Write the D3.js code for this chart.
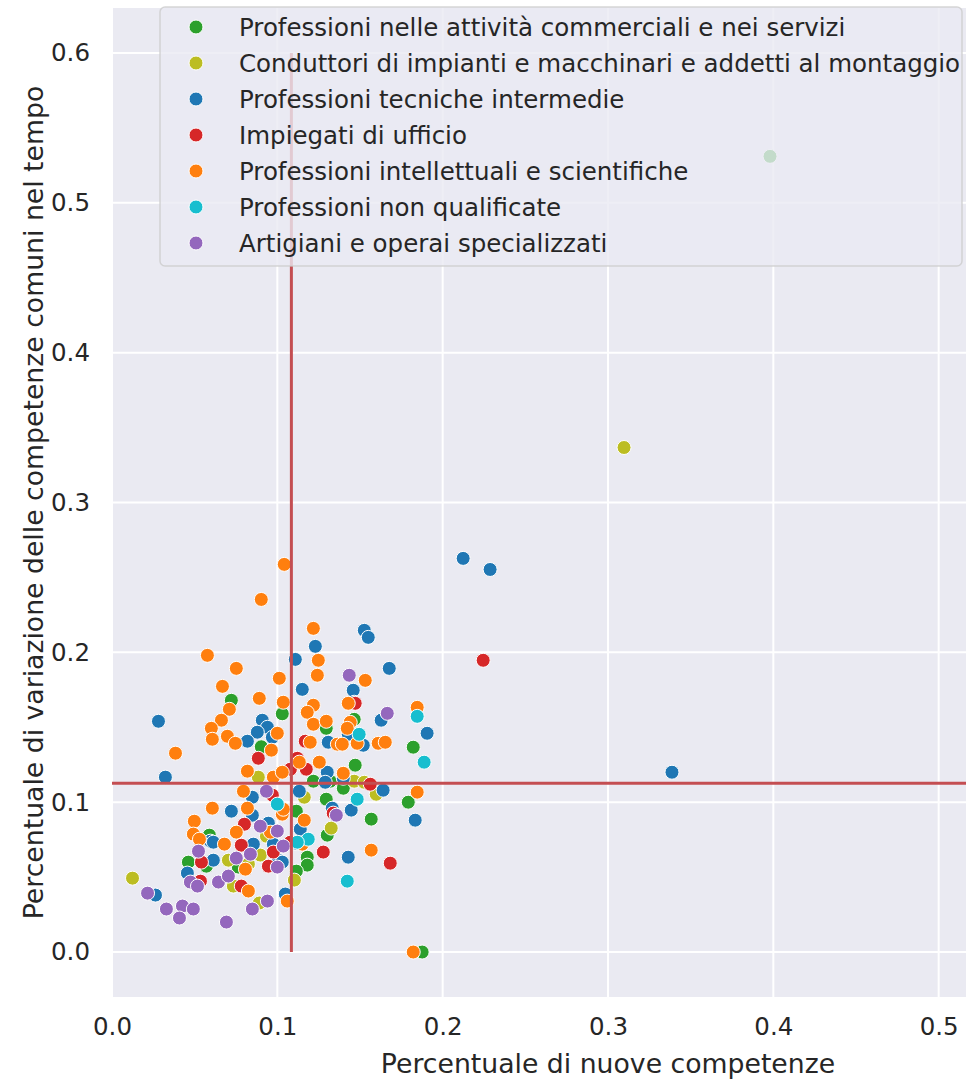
<!DOCTYPE html>
<html>
<head>
<meta charset="utf-8">
<script src="https://cdn.jsdelivr.net/npm/d3@7/dist/d3.min.js"></script>
<style>
body { margin: 0; background: #fff; }
text { font-family: "DejaVu Sans", sans-serif; fill: #262626; }
</style>
</head>
<body>
<svg id="chart" width="966" height="1080"></svg>
<script>
// categorie (ordine della legenda) e colori
var categories = [
  'Professioni nelle attività commerciali e nei servizi',
  'Conduttori di impianti e macchinari e addetti al montaggio',
  'Professioni tecniche intermedie',
  'Impiegati di ufficio',
  'Professioni intellettuali e scientifiche',
  'Professioni non qualificate',
  'Artigiani e operai specializzati'
];
var colors = ['#2ca02c', '#bcbd22', '#1f77b4', '#d62728', '#ff7f0e', '#17becf', '#9467bd'];

// [nuove competenze, variazione competenze comuni]
var commerciali = [
  [0.398, 0.531], [0.0722, 0.168], [0.103, 0.159], [0.0903, 0.137], [0.0589, 0.078],
  [0.0462, 0.060], [0.0571, 0.0573], [0.0764, 0.0567], [0.1296, 0.1493], [0.1465, 0.1553],
  [0.1822, 0.1367], [0.1471, 0.1247], [0.1218, 0.114], [0.132, 0.114], [0.1399, 0.1093],
  [0.1296, 0.102], [0.1792, 0.100], [0.1115, 0.094], [0.1568, 0.0887], [0.1302, 0.078],
  [0.1181, 0.0633], [0.1181, 0.058], [0.1115, 0.054], [0.1876, 0.0]
];
var conduttori = [
  [0.3097, 0.3367], [0.0885, 0.1167], [0.1465, 0.114], [0.1526, 0.1133], [0.1598, 0.1053],
  [0.1163, 0.1033], [0.1326, 0.0827], [0.1103, 0.048], [0.0934, 0.0773], [0.0897, 0.0647],
  [0.0704, 0.0613], [0.0825, 0.0587], [0.0734, 0.044], [0.0891, 0.0327], [0.0124, 0.0493]
];
var tecniche = [
  [0.2124, 0.2627], [0.2287, 0.2553], [0.3387, 0.120], [0.1526, 0.2147], [0.155, 0.210],
  [0.123, 0.204], [0.1109, 0.1953], [0.1677, 0.1893], [0.1151, 0.1753], [0.1459, 0.1747],
  [0.1465, 0.1667], [0.1628, 0.1547], [0.1429, 0.1453], [0.1308, 0.140], [0.152, 0.138],
  [0.1906, 0.146], [0.0281, 0.154], [0.0909, 0.1547], [0.094, 0.150], [0.0879, 0.1467],
  [0.097, 0.1433], [0.0819, 0.1407], [0.0323, 0.1167], [0.0849, 0.1033], [0.0722, 0.094],
  [0.0849, 0.0913], [0.0946, 0.086], [0.0595, 0.074], [0.0613, 0.0733], [0.0855, 0.072],
  [0.0976, 0.072], [0.0613, 0.0613], [0.1006, 0.0613], [0.0456, 0.0527], [0.0263, 0.038],
  [0.1048, 0.0387], [0.1302, 0.120], [0.1399, 0.116], [0.129, 0.1133], [0.164, 0.108],
  [0.1133, 0.1073], [0.1447, 0.0947], [0.1332, 0.096], [0.1834, 0.088], [0.1139, 0.082],
  [0.1109, 0.0727], [0.1429, 0.0633], [0.103, 0.060]
];
var impiegati = [
  [0.2245, 0.1947], [0.1471, 0.166], [0.1169, 0.1407], [0.0885, 0.1293], [0.1121, 0.1293],
  [0.1175, 0.122], [0.1079, 0.122], [0.097, 0.1047], [0.1562, 0.112], [0.1338, 0.0927],
  [0.0801, 0.0853], [0.0782, 0.0713], [0.0976, 0.0667], [0.1079, 0.0733], [0.0541, 0.060],
  [0.0946, 0.0573], [0.0535, 0.0473], [0.0782, 0.044], [0.1278, 0.0667], [0.1683, 0.0593]
];
var intellettuali = [
  [0.1042, 0.2587], [0.0903, 0.2353], [0.0577, 0.198], [0.0752, 0.1893], [0.1248, 0.1947],
  [0.1218, 0.216], [0.1242, 0.1847], [0.1532, 0.1813], [0.1429, 0.166], [0.1036, 0.1667],
  [0.1218, 0.1647], [0.1181, 0.160], [0.1846, 0.1633], [0.1218, 0.152], [0.1296, 0.154],
  [0.1441, 0.1533], [0.1423, 0.1493], [0.1199, 0.140], [0.1363, 0.1387], [0.1393, 0.1387],
  [0.1483, 0.1393], [0.161, 0.1393], [0.1653, 0.140], [0.1012, 0.1827], [0.0668, 0.1773],
  [0.0891, 0.1693], [0.071, 0.162], [0.0662, 0.1547], [0.0601, 0.1493], [0.100, 0.146],
  [0.0607, 0.142], [0.0698, 0.144], [0.0746, 0.1393], [0.0384, 0.1327], [0.0964, 0.1347],
  [0.0819, 0.1207], [0.0976, 0.1167], [0.103, 0.120], [0.0795, 0.1073], [0.0607, 0.096],
  [0.0819, 0.096], [0.103, 0.092], [0.1036, 0.0953], [0.0498, 0.0873], [0.0752, 0.080],
  [0.0958, 0.080], [0.0492, 0.0787], [0.0529, 0.0753], [0.068, 0.072], [0.0807, 0.0553],
  [0.0825, 0.0407], [0.106, 0.034], [0.1133, 0.1267], [0.1254, 0.1267], [0.1399, 0.1193],
  [0.1846, 0.1067], [0.1163, 0.088], [0.1151, 0.072], [0.1568, 0.068], [0.1822, 0.0]
];
var nonQualificate = [
  [0.1846, 0.1573], [0.1495, 0.1453], [0.1888, 0.1267], [0.1483, 0.102], [0.100, 0.0987],
  [0.1187, 0.0753], [0.1121, 0.0733], [0.1423, 0.0473]
];
var artigiani = [
  [0.1435, 0.1847], [0.1665, 0.1593], [0.0934, 0.1073], [0.1357, 0.0913], [0.0897, 0.084],
  [0.100, 0.0807], [0.1036, 0.0707], [0.0523, 0.0673], [0.0837, 0.0653], [0.0752, 0.0627],
  [0.100, 0.0567], [0.0474, 0.0467], [0.0517, 0.044], [0.0644, 0.0467], [0.0704, 0.0507],
  [0.094, 0.034], [0.0849, 0.0287], [0.0215, 0.0393], [0.0329, 0.0287], [0.0426, 0.0307],
  [0.0492, 0.0287], [0.0408, 0.0227], [0.0692, 0.020]
];
var series = [commerciali, conduttori, tecniche, impiegati, intellettuali, nonQualificate, artigiani];

// medie (linee rosse)
var meanX = 0.1085, meanY = 0.1127;
var xTicks = [0, 0.1, 0.2, 0.3, 0.4, 0.5];
var yTicks = [0, 0.1, 0.2, 0.3, 0.4, 0.5, 0.6];

(function () {
  var svg = d3.select('#chart'),
      pLeft = 112, pRight = 1104, pTop = 8, pBottom = 997;

  var x = d3.scaleLinear().domain([0, 0.6]).range([pLeft, pRight]),
      y = d3.scaleLinear().domain([-0.03, 0.63]).range([pBottom, pTop]);

  svg.append('defs').append('clipPath').attr('id', 'plot-clip')
    .append('rect').attr('x', pLeft).attr('y', pTop)
    .attr('width', pRight - pLeft).attr('height', pBottom - pTop);

  svg.append('rect').attr('x', pLeft).attr('y', pTop)
    .attr('width', pRight - pLeft).attr('height', pBottom - pTop)
    .attr('fill', '#eaeaf2');

  // griglia
  var grid = svg.append('g').attr('clip-path', 'url(#plot-clip)');
  grid.selectAll('line.vx').data(xTicks).enter().append('line')
    .attr('x1', function (d) { return x(d); }).attr('x2', function (d) { return x(d); })
    .attr('y1', pTop).attr('y2', pBottom)
    .attr('stroke', '#fff').attr('stroke-width', 2);
  grid.selectAll('line.hy').data(yTicks).enter().append('line')
    .attr('y1', function (d) { return y(d); }).attr('y2', function (d) { return y(d); })
    .attr('x1', pLeft).attr('x2', pRight)
    .attr('stroke', '#fff').attr('stroke-width', 2);

  // assi (solo etichette)
  var xAxis = svg.append('g').attr('transform', 'translate(0,' + pBottom + ')')
    .call(d3.axisBottom(x).tickValues(xTicks).tickSize(0).tickPadding(21).tickFormat(d3.format('.1f')));
  var yAxis = svg.append('g').attr('transform', 'translate(' + pLeft + ',0)')
    .call(d3.axisLeft(y).tickValues(yTicks).tickSize(0).tickPadding(22).tickFormat(d3.format('.1f')));
  [xAxis, yAxis].forEach(function (a) {
    a.select('.domain').remove();
    a.selectAll('text').attr('font-size', 24.5).attr('fill', '#262626')
      .attr('font-family', '"DejaVu Sans", sans-serif');
  });

  svg.append('text').attr('x', (pLeft + pRight) / 2).attr('y', 1073)
    .attr('text-anchor', 'middle').attr('font-size', 26.7)
    .text('Percentuale di nuove competenze');
  svg.append('text')
    .attr('transform', 'translate(43,' + (pTop + pBottom) / 2 + ') rotate(-90)')
    .attr('text-anchor', 'middle').attr('font-size', 26.7)
    .text('Percentuale di variazione delle competenze comuni nel tempo');

  // punti
  var plot = svg.append('g').attr('clip-path', 'url(#plot-clip)');
  series.forEach(function (pts, i) {
    plot.selectAll('circle.s' + i).data(pts).enter().append('circle')
      .attr('class', 's' + i)
      .attr('cx', function (d) { return x(d[0]); })
      .attr('cy', function (d) { return y(d[1]); })
      .attr('r', 7)
      .attr('fill', colors[i])
      .attr('stroke', '#fff').attr('stroke-width', 1);
  });

  // linee delle medie
  plot.append('line')
    .attr('x1', x(meanX)).attr('x2', x(meanX)).attr('y1', y(0)).attr('y2', y(0.6))
    .attr('stroke', '#c44e52').attr('stroke-width', 3);
  plot.append('line')
    .attr('x1', x(0)).attr('x2', x(0.6)).attr('y1', y(meanY)).attr('y2', y(meanY))
    .attr('stroke', '#c44e52').attr('stroke-width', 3);

  // legenda semitrasparente sopra il grafico
  var legend = svg.append('g');
  legend.append('rect').attr('x', 160).attr('y', 7).attr('width', 802).attr('height', 259)
    .attr('rx', 5).attr('fill', '#eaeaf2').attr('fill-opacity', 0.8)
    .attr('stroke', '#cccccc').attr('stroke-opacity', 0.8).attr('stroke-width', 1.5);
  var items = legend.selectAll('g.item').data(categories).enter().append('g')
    .attr('transform', function (d, i) { return 'translate(0,' + (27 + i * 36) + ')'; });
  items.append('circle').attr('cx', 196).attr('cy', 0).attr('r', 7)
    .attr('fill', function (d, i) { return colors[i]; })
    .attr('stroke', '#fff').attr('stroke-width', 1);
  items.append('text').attr('x', 239).attr('y', 0).attr('dy', '0.35em')
    .attr('font-size', 24.5).text(function (d) { return d; });
})();
</script>
</body>
</html>
